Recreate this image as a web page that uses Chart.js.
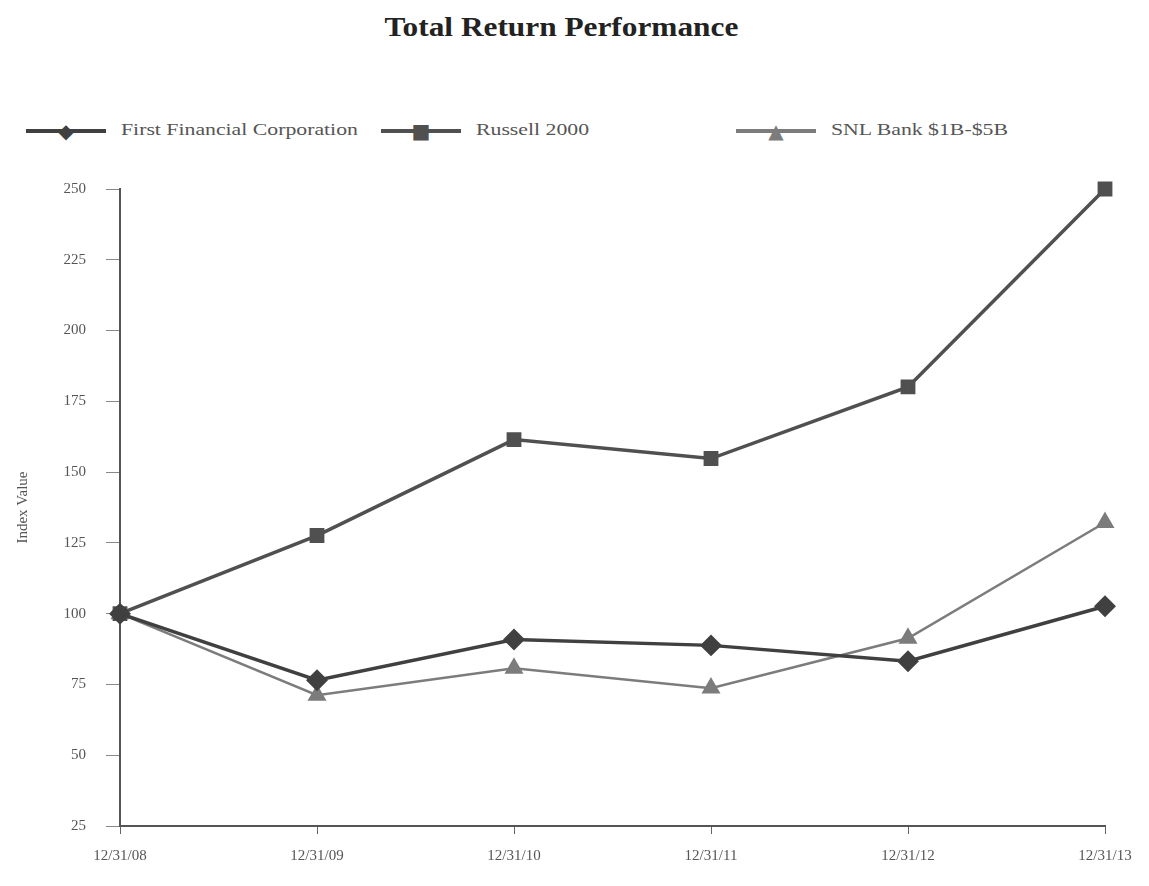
<!DOCTYPE html>
<html>
<head>
<meta charset="utf-8">
<script src="https://cdn.jsdelivr.net/npm/chart.js@4.4.0/dist/chart.umd.min.js"></script>
<style>
  html, body { margin: 0; padding: 0; background: #fff; }
  body { width: 1149px; height: 886px; position: relative; overflow: hidden; font-family: "Liberation Serif", "DejaVu Serif", serif; }
  #title { position: absolute; left: 0; top: 12px; width: 1123px; text-align: center; font-size: 27px; font-weight: bold; color: #222; }
  #title span { display: inline-block; transform: scaleX(1.16); }
  #legend { position: absolute; left: 0; top: 118px; width: 1149px; height: 26px; }
  .item { position: absolute; top: 0; height: 26px; font-size: 16px; color: #555; white-space: nowrap; }
  .mark { position: absolute; left: 0; top: 0; width: 80px; height: 26px; }
  .mark .ln { position: absolute; left: 0; right: 0; top: 11px; height: 4px; }
  .mark .sym { position: absolute; left: 0; right: 0; top: 0; text-align: center; font-family: "DejaVu Sans", sans-serif; font-size: 20px; line-height: 26px; }
  .name { position: absolute; left: 95px; top: 3px; transform: scaleX(1.36); transform-origin: left center; }
  #wrap { position: absolute; left: 0; top: 160px; width: 1149px; height: 726px; }
</style>
</head>
<body>
<div id="title"><span>Total Return Performance</span></div>
<div id="legend"></div>
<div id="wrap"><canvas id="totalReturnChart"></canvas></div>
<script>
'use strict'

// 期間・系列データ
const periods = ['12/31/08', '12/31/09', '12/31/10', '12/31/11', '12/31/12', '12/31/13'];
const firstFinancial = [100, 76.5, 90.9, 88.8, 83.2, 102.6];
const russell2000 = [100, 127.6, 161.5, 154.8, 180.1, 250];
const snlBank = [100, 71.2, 80.7, 73.7, 91.3, 132.2];
const yTicks = [25, 50, 75, 100, 125, 150, 175, 200, 225, 250];

const series = [
  {name: 'First Financial Corporation', values: firstFinancial, color: '#404040', style: 'rectRot', size: 8.5, width: 3.5, sym: '◆', left: 26},
  {name: 'Russell 2000', values: russell2000, color: '#505050', style: 'rect', size: 8, width: 3.5, sym: '■', left: 381},
  {name: 'SNL Bank $1B-$5B', values: snlBank, color: '#7c7c7c', style: 'triangle', size: 8.5, width: 2.5, sym: '▲', left: 736},
];

const tickFont = {family: 'Liberation Serif', size: 15};

const ctx = document.getElementById('totalReturnChart');
const myChart = new Chart(ctx, {
  type: 'line',
  data: {
    labels: periods,
    datasets: series.map((s) => ({
      label: s.name,
      data: s.values,
      borderColor: s.color,
      backgroundColor: s.color,
      borderWidth: s.width,
      pointStyle: s.style,
      pointRadius: s.size,
      pointHoverRadius: s.size,
      tension: 0,
      clip: false,
    })),
  },
  options: {
    responsive: true,
    maintainAspectRatio: false,
    animation: false,
    layout: {
      autoPadding: false,
      padding: {top: 18, right: 44, bottom: 0, left: 14},
    },
    plugins: {
      legend: {display: false},
      tooltip: {enabled: false},
    },
    scales: {
      x: {
        offset: false,
        grid: {drawOnChartArea: false, drawTicks: true, tickLength: 8, color: '#666', lineWidth: 1},
        border: {display: true, color: '#555', width: 2},
        ticks: {color: '#555', padding: 13, maxRotation: 0, font: tickFont},
        afterFit: function(scale) { scale.height = 60; },
      },
      y: {
        min: 25,
        max: 250,
        afterBuildTicks: function(scale) { scale.ticks = yTicks.map((v) => ({value: v})); },
        grid: {drawOnChartArea: false, drawTicks: true, tickLength: 14, color: '#888', lineWidth: 1},
        border: {display: true, color: '#555', width: 2},
        ticks: {color: '#555', padding: 20, font: tickFont},
        title: {display: true, text: 'Index Value', color: '#555', padding: 0, font: {family: 'Liberation Serif', size: 15}},
        afterFit: function(scale) { scale.width = 106; },
      },
    },
  },
});

// 凡例
const legendEl = document.getElementById('legend');
let legendHtml = '';
series.forEach((s) => {
  legendHtml += `<div class="item" style="left:${s.left}px">`
    + `<span class="mark"><span class="ln" style="background:${s.color}"></span><span class="sym" style="color:${s.color}">${s.sym}</span></span>`
    + `<span class="name">${s.name}</span></div>`;
});
legendEl.insertAdjacentHTML('beforeend', legendHtml);
</script>
</body>
</html>
